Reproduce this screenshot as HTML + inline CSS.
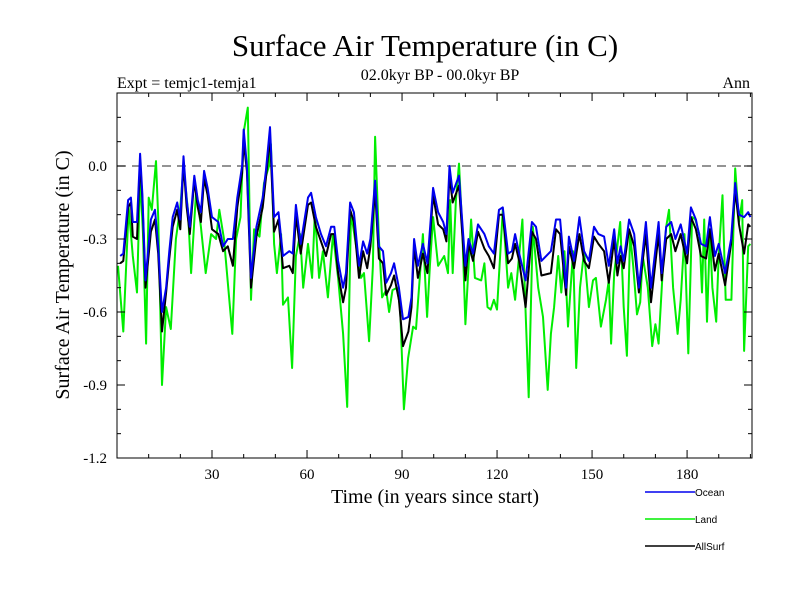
<!DOCTYPE html>
<html><head><meta charset="utf-8"><style>
body{margin:0;background:#fff}
svg text{font-family:"Liberation Serif",serif}
</style></head><body>
<svg id="chart" width="800" height="600" xmlns="http://www.w3.org/2000/svg">
<rect width="800" height="600" fill="#fff"/>
<text x="425" y="56" font-size="31" text-anchor="middle">Surface Air Temperature (in C)</text>
<text x="440" y="80" font-size="16" text-anchor="middle">02.0kyr BP - 00.0kyr BP</text>
<text x="117" y="88" font-size="16">Expt = temjc1-temja1</text>
<text x="750" y="88" font-size="16" text-anchor="end">Ann</text>
<text transform="translate(69,275) rotate(-90)" font-size="20" text-anchor="middle">Surface Air Temperature (in C)</text>
<text x="435" y="503" font-size="20" text-anchor="middle">Time (in years since start)</text>
<g id="plot"></g>
<g id="legend"></g>
</svg>
<script>
const oceanYears=[1,2,3.5,4.4,5,6.3,7.3,8,9,10.7,12,13,14.2,15.5,16.5,17.6,19,20,21,22,23,24.4,25.5,26.5,27.5,28.6,30,32,33.5,35,36.6,38,39.5,40,41,42.3,44,46,47,48.3,49.6,51,52.4,54.4,55.5,56.5,58,60.3,61.3,62.8,64.4,66,67.6,68.6,69.8,71.4,72.3,73.6,74.8,76.4,77.7,79,80,81.5,82.7,84,85,86.5,87.5,89,90.3,92,93,93.8,95,96.6,98,99.8,101.4,103,104,105,106,108,110,111,112.4,114,116,117.4,119,120.6,121.8,123.5,124.7,125.7,127,129,131,132.3,134,137,138.6,139.9,141.8,142.7,144.3,146,147.5,149,150.6,152,153.8,155.3,157,158,159,160,161.7,163.3,164.8,167,168.6,171,172,173.4,175,176.3,178,180,181.2,182.8,184.4,186,187.2,188.8,190,192,193.9,195.2,196.4,198,199.3,200];
const oceanValues=[-0.37,-0.36,-0.14,-0.13,-0.23,-0.23,0.05,-0.11,-0.47,-0.22,-0.18,-0.33,-0.6,-0.5,-0.35,-0.21,-0.15,-0.22,0.04,-0.14,-0.25,-0.04,-0.14,-0.19,-0.02,-0.09,-0.21,-0.23,-0.33,-0.3,-0.3,-0.13,0.0,0.15,0.0,-0.46,-0.25,-0.13,-0.02,0.16,-0.21,-0.19,-0.37,-0.35,-0.36,-0.16,-0.32,-0.13,-0.11,-0.21,-0.28,-0.33,-0.25,-0.25,-0.39,-0.5,-0.44,-0.15,-0.19,-0.41,-0.31,-0.36,-0.3,-0.06,-0.33,-0.35,-0.48,-0.44,-0.4,-0.5,-0.63,-0.62,-0.54,-0.3,-0.41,-0.32,-0.4,-0.09,-0.19,-0.23,-0.28,0.0,-0.11,-0.04,-0.41,-0.3,-0.36,-0.24,-0.28,-0.33,-0.36,-0.18,-0.17,-0.36,-0.35,-0.28,-0.36,-0.47,-0.23,-0.25,-0.39,-0.35,-0.22,-0.22,-0.5,-0.29,-0.39,-0.21,-0.35,-0.39,-0.25,-0.28,-0.29,-0.41,-0.26,-0.4,-0.33,-0.39,-0.22,-0.28,-0.5,-0.23,-0.5,-0.23,-0.44,-0.25,-0.23,-0.3,-0.24,-0.36,-0.17,-0.22,-0.32,-0.33,-0.21,-0.37,-0.32,-0.44,-0.3,-0.07,-0.2,-0.21,-0.19,-0.21];
const allYears=oceanYears;
const allValues=[-0.4,-0.39,-0.17,-0.15,-0.29,-0.3,0.02,-0.13,-0.5,-0.27,-0.22,-0.36,-0.68,-0.52,-0.38,-0.25,-0.18,-0.26,0.01,-0.17,-0.28,-0.06,-0.17,-0.23,-0.05,-0.12,-0.26,-0.28,-0.35,-0.33,-0.41,-0.17,-0.03,0.1,-0.02,-0.5,-0.29,-0.17,-0.05,0.12,-0.27,-0.22,-0.42,-0.41,-0.44,-0.2,-0.36,-0.16,-0.15,-0.25,-0.31,-0.37,-0.28,-0.28,-0.44,-0.56,-0.5,-0.18,-0.23,-0.46,-0.35,-0.42,-0.33,-0.1,-0.38,-0.4,-0.53,-0.49,-0.45,-0.55,-0.74,-0.68,-0.58,-0.33,-0.46,-0.36,-0.44,-0.12,-0.24,-0.26,-0.31,-0.04,-0.15,-0.08,-0.47,-0.32,-0.39,-0.27,-0.34,-0.37,-0.42,-0.2,-0.2,-0.4,-0.38,-0.32,-0.39,-0.58,-0.27,-0.3,-0.45,-0.44,-0.26,-0.28,-0.53,-0.33,-0.42,-0.28,-0.39,-0.42,-0.29,-0.32,-0.35,-0.48,-0.3,-0.45,-0.37,-0.42,-0.26,-0.33,-0.52,-0.28,-0.56,-0.28,-0.47,-0.3,-0.28,-0.35,-0.28,-0.4,-0.21,-0.26,-0.37,-0.38,-0.26,-0.43,-0.36,-0.49,-0.32,-0.1,-0.24,-0.36,-0.24,-0.25];
const landYears=[0.3,2,3.7,5,6.3,7.3,8.2,9.2,10,11,12.3,13,14.2,15.5,17,18.6,20,21,22.4,23.4,25,26.5,28,29.7,31.3,32.3,33.8,36.4,37.6,39,40,41.3,42.3,43.3,45,46.4,48,48.6,49.6,50.5,51.8,52.4,54,55.3,56.5,57.8,58.8,60.3,61.6,62.5,63.8,65,66.6,68.2,69.8,71.4,72.7,73.9,75.5,77,78,79.6,80.8,81.5,82.7,83.7,85,85.9,87,88.4,89.4,90.6,91.9,93.5,94.4,95.7,96.6,97.9,98.8,99.8,101.4,103.3,104.5,105.2,106,107,108,109,110,111.8,113,115,116,117,118,119,120,121.8,123.5,124.5,125.7,128,129,130,131.3,133,134.5,136,137,138,139.3,140.3,141.3,142.4,144,145,146.2,147.5,149,150.3,151.2,152.8,154.4,155.3,156,157,158.9,160,161,162,163,164.2,165.2,166,167.6,169,170,171,172.4,173.4,174.3,175.6,177,178,179.2,180.4,181.6,182.6,183.9,184.7,185.4,186.3,187.2,188,189.2,190,191.2,192.2,193,194,195.2,196.4,197.4,198,199.3,200];
const landValues=[-0.41,-0.68,-0.17,-0.37,-0.52,-0.04,-0.28,-0.73,-0.13,-0.18,0.02,-0.21,-0.9,-0.58,-0.67,-0.3,-0.17,0.0,-0.18,-0.44,-0.1,-0.25,-0.44,-0.28,-0.3,-0.18,-0.3,-0.69,-0.3,-0.21,0.14,0.24,-0.55,-0.26,-0.29,-0.07,0.0,0.09,-0.32,-0.44,-0.28,-0.57,-0.54,-0.83,-0.37,-0.28,-0.5,-0.32,-0.46,-0.19,-0.46,-0.35,-0.54,-0.28,-0.46,-0.69,-0.99,-0.19,-0.33,-0.46,-0.44,-0.72,-0.41,0.12,-0.3,-0.54,-0.51,-0.6,-0.51,-0.5,-0.58,-1.0,-0.79,-0.66,-0.67,-0.44,-0.28,-0.62,-0.41,-0.21,-0.41,-0.37,-0.44,-0.14,-0.44,-0.14,0.01,-0.25,-0.65,-0.22,-0.46,-0.47,-0.4,-0.58,-0.59,-0.55,-0.59,-0.18,-0.5,-0.44,-0.55,-0.22,-0.6,-0.95,-0.25,-0.5,-0.62,-0.92,-0.69,-0.58,-0.37,-0.52,-0.35,-0.66,-0.35,-0.83,-0.5,-0.35,-0.58,-0.47,-0.46,-0.66,-0.55,-0.47,-0.73,-0.44,-0.23,-0.58,-0.78,-0.28,-0.41,-0.61,-0.56,-0.37,-0.5,-0.74,-0.65,-0.73,-0.41,-0.25,-0.18,-0.5,-0.69,-0.55,-0.28,-0.77,-0.21,-0.22,-0.28,-0.52,-0.22,-0.64,-0.28,-0.5,-0.64,-0.37,-0.12,-0.55,-0.55,-0.55,-0.01,-0.23,-0.14,-0.76,-0.33,-0.32];
const xTicks=[30,60,90,120,150,180];
const yTicks=[0.0,-0.3,-0.6,-0.9,-1.2];
const yTickLabels=["0.0","-0.3","-0.6","-0.9","-1.2"];
const seriesNames=["Ocean","Land","AllSurf"];

const L=117,R=752,T=93,B=458,X0=0,X1=200.5,Y0=-1.2,Y1=0.3;
const xs=v=>L+(v-X0)/(X1-X0)*(R-L);
const ys=v=>B-(v-Y0)/(Y1-Y0)*(B-T);
const NS="http://www.w3.org/2000/svg";
const plot=document.getElementById('plot');
function mk(tag,attrs,parent){const e=document.createElementNS(NS,tag);for(const k in attrs)e.setAttribute(k,attrs[k]);(parent||plot).appendChild(e);return e;}

const zero=mk('line',{x1:L,x2:R,y1:ys(0),y2:ys(0),stroke:'#555','stroke-width':1.2,'stroke-dasharray':'9,6'});



function drawLine(xsA,ysA,color,name){
  const d=xsA.map((x,i)=>(i?'L':'M')+xs(x).toFixed(1)+','+ys(ysA[i]).toFixed(1)).join('');
  const p=mk('path',{d:d,fill:'none',stroke:color,'stroke-width':2,'stroke-linejoin':'round'});
  
  
}
drawLine(landYears,landValues,'#00ee00','land-series-line');
drawLine(allYears,allValues,'#000','allsurf-series-line');
drawLine(oceanYears,oceanValues,'#0000ee','ocean-series-line');

const frame=mk('rect',{x:L,y:T,width:R-L,height:B-T,fill:'none',stroke:'#000','stroke-width':1});



for(let v=10;v<=200;v+=10){
  const major=v%30===0,len=major?8:4;
  mk('line',{x1:xs(v),x2:xs(v),y1:B,y2:B-len,stroke:'#000'});
  mk('line',{x1:xs(v),x2:xs(v),y1:T,y2:T+len,stroke:'#000'});
}
for(let k=-12;k<=3;k++){
  const v=k/10,major=k%3===0,len=major?8:4;
  mk('line',{x1:L,x2:L+len,y1:ys(v),y2:ys(v),stroke:'#000'});
  mk('line',{x1:R,x2:R-len,y1:ys(v),y2:ys(v),stroke:'#000'});
}
xTicks.forEach(v=>{
  const t=mk('text',{x:xs(v),y:B+21,'font-size':15,'text-anchor':'middle'});
  t.textContent=v;
  
  
});
yTicks.forEach((v,i)=>{
  const t=mk('text',{x:L-10,y:ys(v)+5,'font-size':15,'text-anchor':'end'});
  t.textContent=yTickLabels[i];
  
  
});

const lg=document.getElementById('legend');
const lcol=['#0000ee','#00ee00','#000'];
seriesNames.forEach((n,i)=>{
  const y=492+i*27;
  const g=mk('g',{},lg);
  
  
  mk('line',{x1:645,x2:695,y1:y,y2:y,stroke:lcol[i],'stroke-width':1.5},g);
  const t=mk('text',{x:695,y:y+4,'font-size':10,style:'font-family:"Liberation Sans",sans-serif'},g);
  t.textContent=n;
});
</script>
</body></html>
